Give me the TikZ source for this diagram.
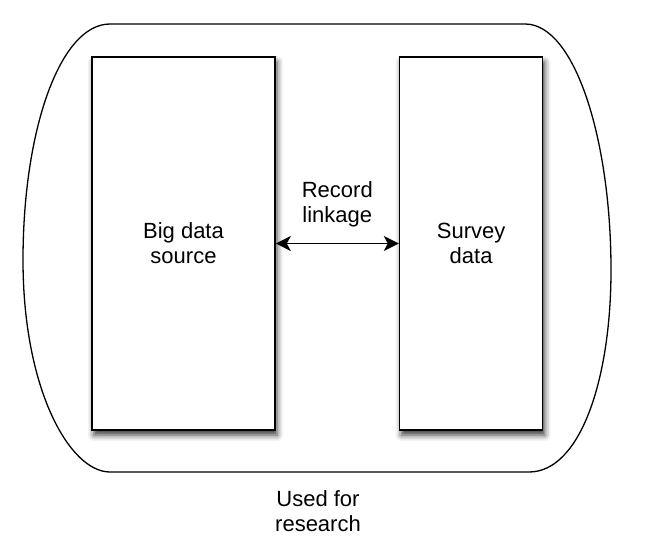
\documentclass[tikz,border=0pt]{standalone}
\usepackage{fontspec}
\setmainfont{Liberation Sans}
\usetikzlibrary{arrows.meta,positioning,shadows.blur}
\tikzset{>={Stealth[length=15pt,width=15pt,inset=4pt]},every node/.style={font=\fontsize{22}{25}\selectfont,
 align=center,inner sep=2pt},store/.style={draw,line width=1.6pt,fill=white,
 blur shadow={shadow xshift=2pt,shadow yshift=-5pt,shadow blur radius=6pt,shadow opacity=80}},
 frame/.style={draw,line width=1.3pt}}

\begin{document}
\begin{tikzpicture}[x=1pt,y=-1pt]
\useasboundingbox (0,0) rectangle (664,554);
% outer boundary
\draw[frame] (110,24) -- (525,24) .. controls (575,24) and (611,140) .. (611,270)
 .. controls (611,380) and (580,472) .. (529,472) -- (110,472)
 .. controls (70,472) and (23,390) .. (23,260) .. controls (23,130) and (60,24) .. (110,24) -- cycle;
\coordinate (base) at (318,472);
\node[store,minimum width=183pt,minimum height=373pt] (big) at (183.5,243.5) {Big data\\source};
\node[store,minimum width=143pt,minimum height=373pt,right=123pt of big] (survey) {Survey\\data};
\draw[<->,line width=1.3pt] (big) -- node[above=14pt] (link) {Record\\linkage} (survey);
\node[below=16pt of base] (use) {Used for\\research};
\end{tikzpicture}
\end{document}
